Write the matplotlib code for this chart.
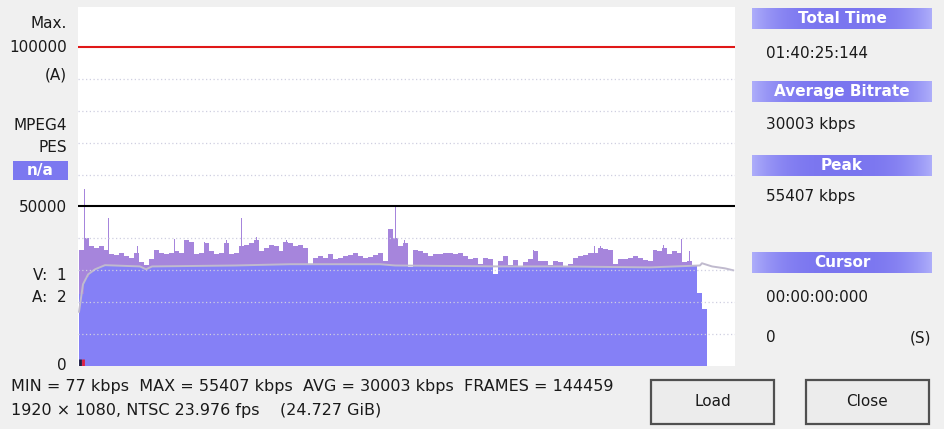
import numpy as np
import matplotlib.pyplot as plt
from matplotlib.patches import Rectangle

W, H = 945, 429

# bitrate per ~48 s bin (kbps) left to right
bin_sec = 48
bitrate_kbps = [
    36500, 40000, 37500, 37000, 37500, 36500, 35000, 34800, 35500, 34500,
    34000, 35500, 32500, 31800, 33500, 36500, 35500, 35000, 35500, 36000,
    35500, 39500, 39000, 35000, 35500, 38500, 36000, 35000, 35500, 38500,
    35000, 35500, 37500, 38000, 38500, 39500, 36000, 37000, 38000, 37500,
    36000, 39000, 38500, 37500, 37800, 37000, 31500, 34000, 34500, 33800,
    35000, 33500, 34000, 34500, 34800, 35500, 34500, 34000, 34300, 34800,
    35500, 33000, 43000, 40000, 37500, 38500, 31000, 36500, 36000, 35500,
    34500, 35000, 35000, 35300, 35500, 35000, 35300, 34500, 33500, 33800,
    32000, 34000, 33500, 28700, 33000, 34500, 31500, 33200, 31000, 32500,
    33500, 36000, 32800, 32800, 31500, 32800, 32500, 31200, 32000, 34000,
    34500, 34800, 35500, 35500, 37000, 36800, 36500, 32000, 33500, 33500,
    34000, 34500, 34000, 33200, 33000, 36500, 36000, 37000, 35000, 36000,
    35500, 32500, 33000, 31200, 23000, 17800,
]

# single-GOP spikes
spike_sec = [48, 279, 558, 914, 1203, 1415, 1559, 1704, 1993, 3042,
             3128, 4370, 4957, 5015, 5621, 5794, 5871]
spike_kbps = [55407, 46500, 37500, 39700, 39000, 39500, 46500, 40300, 39500, 50000,
              39500, 36500, 37500, 37500, 38000, 39700, 36000]

# gray average line
avg_sec = [0, 38, 87, 154, 250, 587, 645, 703, 1502, 2031, 2897, 3042,
           4052, 4630, 5496, 5977, 5996, 6093, 6218, 6295]
avg_kbps = [17000, 25600, 28700, 30300, 31600, 31200, 30300, 31200, 31500, 31900,
            31900, 31500, 31200, 31200, 30900, 31500, 32200, 31200, 30600, 30000]

grid_kbps = [10000, 20000, 30000, 40000, 60000, 70000, 80000, 90000]

BG = '#f0f0f0'
BLUE = '#8580f6'
PURPLE = '#a685dc'
HEAD = '#7c78f0'


def fx(x):
    return x / W


def fy(y):
    return 1 - y / H


fig = plt.figure(figsize=(W / 100, H / 100), dpi=100, facecolor=BG)
plt.rcParams['font.family'] = ['DejaVu Sans']

ax = fig.add_axes([fx(78), fy(366), (735 - 78) / W, (366 - 7) / H])
ax.set_facecolor('white')
for s in ax.spines.values():
    s.set_visible(False)
ax.set_xticks([])
ax.set_yticks([])
ax.set_xlim(-10, 6314)
ax.set_ylim(0, 112500)

starts = np.arange(len(bitrate_kbps)) * bin_sec
bars = np.array(bitrate_kbps)
avg_at = np.interp(starts + bin_sec / 2, avg_sec, avg_kbps)
ax.bar(starts, bars, width=bin_sec, align='edge', color=PURPLE, linewidth=0)
ax.bar(starts, np.minimum(bars, avg_at), width=bin_sec, align='edge', color=BLUE, linewidth=0)

sp = np.array(spike_kbps)
sp_avg = np.interp(spike_sec, avg_sec, avg_kbps)
ax.bar(spike_sec, sp, width=13, align='edge', color=PURPLE, linewidth=0)
ax.bar(spike_sec, np.minimum(sp, sp_avg), width=13, align='edge', color=BLUE, linewidth=0)

ax.plot(avg_sec, avg_kbps, color='#c0bace', lw=1.4)

for g in grid_kbps:
    ax.axhline(g, color='#cfcfe0', lw=0.9, ls=(0, (1, 2)))
ax.axhline(100000, color='#e01818', lw=1.5)
ax.axhline(50000, color='black', lw=1.5)

# cursor marks
ax.vlines([8], 0, 2200, color='#202040', lw=2)
ax.vlines([35], 0, 2200, color='#e02040', lw=2)

fs = 11
# left labels
for txt, y in [('Max.', 23), ('100000', 47), ('(A)', 75), ('MPEG4', 126),
               ('PES', 148), ('50000', 207), ('V:  1', 275), ('A:  2', 297), ('0', 365)]:
    fig.text(fx(67), fy(y), txt, ha='right', va='center', fontsize=fs, color='#1a1a1a')

fig.patches.append(Rectangle((fx(13), fy(180)), 55 / W, 19 / H, transform=fig.transFigure,
                             facecolor=HEAD, edgecolor='none'))
fig.text(fx(40.5), fy(170), 'n/a', ha='center', va='center', fontsize=fs,
         color='white', fontweight='bold')

# right panel headers
grad = np.abs(np.linspace(-1, 1, 200)) ** 3
c_mid = np.array([0.48, 0.46, 0.94])
c_edge = np.array([0.68, 0.68, 0.98])
img = c_mid[None, None, :] + grad[None, :, None] * (c_edge - c_mid)[None, None, :]
for title, y0 in [('Total Time', 8), ('Average Bitrate', 81), ('Peak', 155), ('Cursor', 252)]:
    hax = fig.add_axes([fx(752), fy(y0 + 21), 180 / W, 21 / H])
    hax.imshow(img, aspect='auto', extent=(0, 1, 0, 1))
    hax.axis('off')
    hax.text(0.5, 0.48, title, ha='center', va='center', fontsize=fs,
             color='white', fontweight='bold', transform=hax.transAxes)

for txt, y in [('01:40:25:144', 53), ('30003 kbps', 124), ('55407 kbps', 197),
               ('00:00:00:000', 297), ('0', 338)]:
    fig.text(fx(766), fy(y), txt, ha='left', va='center', fontsize=fs, color='#1a1a1a')
fig.text(fx(931), fy(338), '(S)', ha='right', va='center', fontsize=fs, color='#1a1a1a')

# bottom info
fig.text(fx(11), fy(387), 'MIN = 77 kbps  MAX = 55407 kbps  AVG = 30003 kbps  FRAMES = 144459',
         ha='left', va='center', fontsize=11.5, color='#1a1a1a')
fig.text(fx(11), fy(410), '1920 \u00d7 1080, NTSC 23.976 fps    (24.727 GiB)',
         ha='left', va='center', fontsize=11.5, color='#1a1a1a')

# buttons
for label, x0 in [('Load', 651), ('Close', 806)]:
    fig.patches.append(Rectangle((fx(x0), fy(424)), 123 / W, 44 / H, transform=fig.transFigure,
                                 facecolor='#ececec', edgecolor='#505050', lw=1.6))
    fig.text(fx(x0 + 61.5), fy(402), label, ha='center', va='center', fontsize=fs, color='#1a1a1a')

fig.savefig('out.png', dpi=100, facecolor=BG)
